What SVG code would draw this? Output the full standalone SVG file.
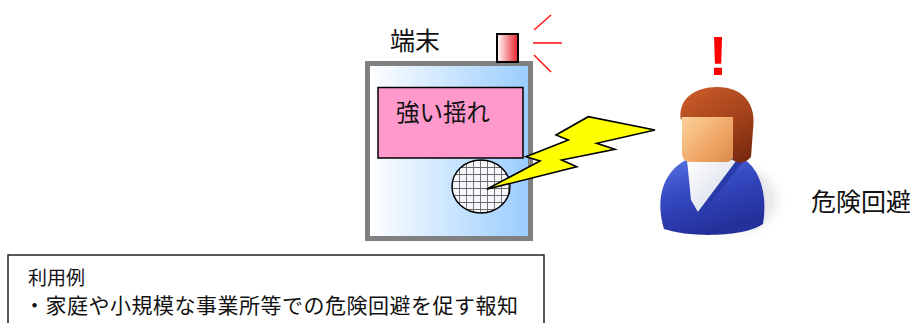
<svg xmlns="http://www.w3.org/2000/svg" width="915" height="323" viewBox="0 0 915 323">
  <style>
    .jp { font-family: "Noto Sans CJK JP", "Noto Sans", sans-serif; fill: #111; }
    .ray { stroke: #ff1a1a; stroke-width: 1.6; fill: none; }
    .edge { stroke: #000; stroke-width: 1.6; stroke-linejoin: miter; }
  </style>
  <defs>
    <linearGradient id="devFill" x1="0" y1="0" x2="1" y2="0">
      <stop offset="0" stop-color="#ffffff"/>
      <stop offset="1" stop-color="#99ccff"/>
    </linearGradient>
    <linearGradient id="lampFill" x1="0" y1="0" x2="1" y2="0">
      <stop offset="0" stop-color="#ffffff"/>
      <stop offset="1" stop-color="#e8202a"/>
    </linearGradient>
    <pattern id="mesh" x="452" y="160" width="7" height="7" patternUnits="userSpaceOnUse">
      <rect width="7" height="7" fill="#f8f8fc"/>
      <path d="M0 0H7M0 0V7" stroke="#6a6a6a" stroke-width="1.8"/>
    </pattern>
    <radialGradient id="shadowFill" cx="0.5" cy="0.5" r="0.5">
      <stop offset="0" stop-color="#d8d8dc"/>
      <stop offset="0.7" stop-color="#ececee"/>
      <stop offset="1" stop-color="#ffffff" stop-opacity="0"/>
    </radialGradient>
    <linearGradient id="suitFill" x1="0" y1="0" x2="0.4" y2="1">
      <stop offset="0" stop-color="#5a78e6"/>
      <stop offset="0.5" stop-color="#3448c0"/>
      <stop offset="1" stop-color="#24309a"/>
    </linearGradient>
    <linearGradient id="shirtFill" x1="0" y1="0" x2="1" y2="1">
      <stop offset="0" stop-color="#ffffff"/>
      <stop offset="1" stop-color="#cfd6e4"/>
    </linearGradient>
    <linearGradient id="faceFill" x1="0" y1="0" x2="1" y2="1">
      <stop offset="0" stop-color="#fcd6a0"/>
      <stop offset="0.6" stop-color="#f0a868"/>
      <stop offset="1" stop-color="#d8884a"/>
    </linearGradient>
    <linearGradient id="hairFill" x1="0.2" y1="0" x2="0.8" y2="1">
      <stop offset="0" stop-color="#c85a28"/>
      <stop offset="0.6" stop-color="#a0401a"/>
      <stop offset="1" stop-color="#7a2a0e"/>
    </linearGradient>
  </defs>

  <!-- terminal device -->
  <g id="terminal">
    <text class="jp" x="390" y="50" font-size="25">端末</text>
    <rect x="367.5" y="63.5" width="163" height="175" fill="url(#devFill)" stroke="#808080" stroke-width="5"/>
    <rect x="378" y="87.5" width="145" height="70.5" fill="#ff99cc" stroke="#000" stroke-width="1.5"/>
    <text class="jp" x="396" y="121" font-size="23.5">強い揺れ</text>
    <ellipse cx="481" cy="186.5" rx="29" ry="26.5" fill="url(#mesh)" stroke="#000" stroke-width="1.5"/>
  </g>

  <!-- warning lamp with light rays -->
  <g id="lamp">
    <rect x="497" y="34" width="21" height="28" fill="url(#lampFill)" stroke="#000" stroke-width="2"/>
    <line class="ray" x1="534" y1="30" x2="551" y2="15"/>
    <line class="ray" x1="533" y1="43" x2="562" y2="43"/>
    <line class="ray" x1="534" y1="55" x2="551" y2="72"/>
  </g>

  <!-- person -->
  <g id="person">
    <ellipse cx="738" cy="200" rx="50" ry="42" fill="url(#shadowFill)"/>
    <path d="M664 229 C655 200 662 170 690 158 L738 156 C760 165 768 195 763 224 C745 237 690 238 664 229 Z" fill="url(#suitFill)"/>
    <path d="M687 160 L737 160 L698 212 L691 200 Z" fill="url(#shirtFill)"/>
    <path d="M737 160 L742 163 L702 214 L698 212 Z" fill="#2a3aa8"/>
    <rect x="682" y="110" width="52" height="52" rx="8" fill="url(#faceFill)"/>
    <path d="M681 121 C677 99 695 87 717 87 C743 87 757 104 753 130 L751 157 C745 164 738 164 733 160 L733 117 L682 117 Z" fill="url(#hairFill)"/>
    <text x="718" y="75" text-anchor="middle" font-family="Liberation Sans, Arial, sans-serif" font-weight="bold" font-size="56" fill="#ff0000">!</text>
    <text class="jp" x="811" y="211" font-size="25">危険回避</text>
  </g>

  <!-- notification bolt from speaker to person -->
  <g id="connectors">
    <polygon class="edge" fill="#ffff00" points="486.7,189.3 540,161 526,156.7 568.3,140 556,135 588.3,116.7 655,130 596.7,143.3 615,149.3 561.7,160 576.7,166.7"/>
  </g>

  <!-- usage note -->
  <g id="usage">
    <rect x="8" y="255" width="536" height="80" fill="#fff" stroke="#222" stroke-width="1.5"/>
    <text class="jp" x="28" y="285" font-size="19">利用例</text>
    <text class="jp" x="24" y="313" font-size="21" textLength="494" lengthAdjust="spacing">・家庭や小規模な事業所等での危険回避を促す報知</text>
  </g>
</svg>
